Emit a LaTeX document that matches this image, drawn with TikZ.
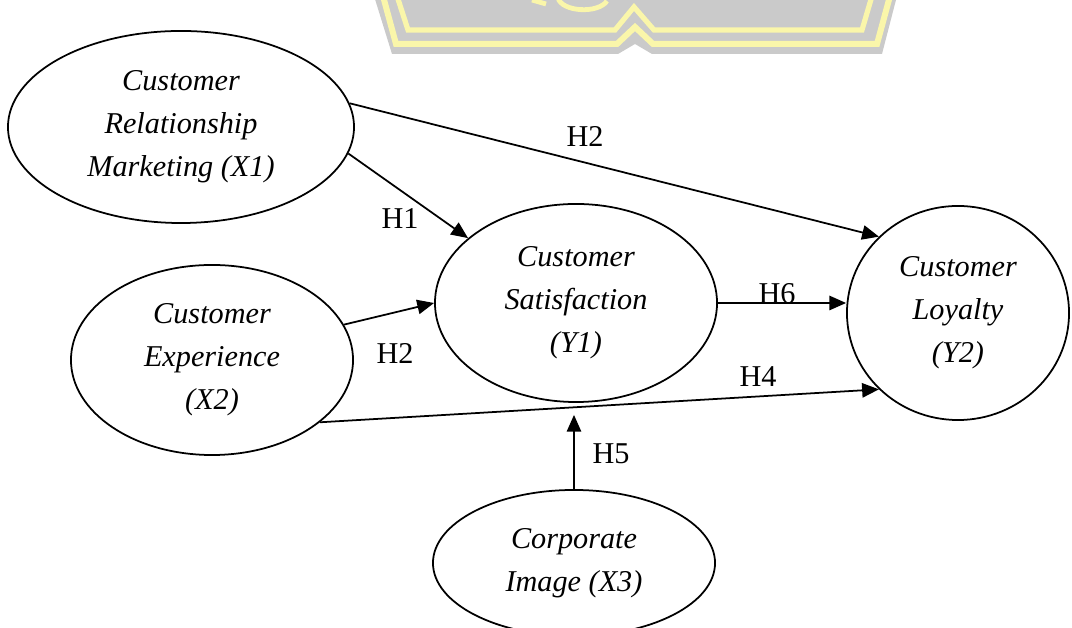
\documentclass[tikz,border=0pt]{standalone}
\usepackage{fontspec}
\setmainfont{Liberation Serif}
\usepackage{tikz}
\usetikzlibrary{shapes.geometric, arrows.meta}
\definecolor{wmgray}{RGB}{202,202,202}
\definecolor{wmyellow}{RGB}{250,246,170}

\begin{document}
\begin{tikzpicture}[x=0.025cm, y=0.025cm,
    font=\fontsize{21.5pt}{30.6pt}\selectfont,
    line width=1.25pt,
    >={Triangle[length=0.42cm, width=0.36cm]},
    var/.style={ellipse, draw, inner sep=0pt, align=center, font=\fontsize{21.5pt}{30.6pt}\selectfont\itshape},
    hyp/.style={anchor=base, inner sep=0pt}]
    \clip (0,0) rectangle (1072,628);

    % watermark at the top
    \fill[wmgray] (374,632) -- (897,632) -- (882,574) -- (652,574) -- (635,584) -- (618,574) -- (392,574) -- cycle;
    \draw[wmyellow, line width=0.15cm] (383,632) -- (396,584) -- (617,584) -- (635,601) -- (653,584) -- (877,584) -- (890,632);
    \draw[wmyellow, line width=0.13cm] (397,632) -- (408,598) -- (615,598) -- (634,621) -- (654,598) -- (862,598) -- (872,632);
    \draw[wmyellow, line width=0.12cm] (558,630) .. controls (562,616) and (598,614) .. (607,627);
    \draw[wmyellow, line width=0.12cm] (532,628) -- (546,624);

    \node (X1) at (181,501) [var, minimum width=8.65cm, minimum height=4.8cm] {Customer\\Relationship\\Marketing (X1)};
    \node (X2) at (212,268) [var, minimum width=7.05cm, minimum height=4.75cm] {Customer\\Experience\\(X2)};
    \node (Y1) at (576,325) [var, minimum width=7.05cm, minimum height=4.95cm] {Customer\\Satisfaction\\(Y1)};
    \node (Y2) at (958,315) [var, minimum width=5.55cm, minimum height=5.35cm] {Customer\\Loyalty\\(Y2)};
    \node (X3) at (574,65) [var, minimum width=7.05cm, minimum height=3.65cm] {Corporate\\Image (X3)};

    \coordinate (h5end) at ([yshift=-0.3cm]Y1.south);

    \draw[->] (X1.8) -- (Y2.136);
    \draw[->] (X1.-9) -- (Y1.149);
    \draw[->] (X2.15) -- (Y1.180);
    \draw[->] (Y1.east) -- (Y1.east -| Y2.west);
    \draw[->] (X2.-30) -- (Y2.-136);
    \draw[->] (X3.north) -- (X3.north |- h5end);

    \node (h2top) at (585,481) [hyp] {H2};
    \node (h1) at (400,399) [hyp] {H1};
    \node (h2low) at (395,264) [hyp] {H2};
    \node (h6) at (777,324) [hyp] {H6};
    \node (h4) at (758,241) [hyp] {H4};
    \node (h5) at (611,164) [hyp] {H5};
\end{tikzpicture}
\end{document}
